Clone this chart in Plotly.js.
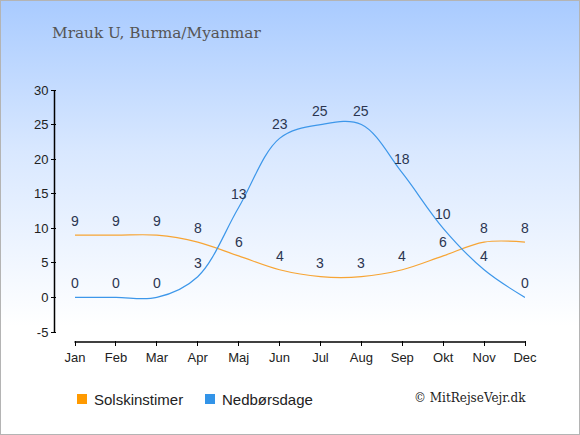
<!DOCTYPE html>
<html>
<head>
<meta charset="utf-8">
<script src="https://cdn.plot.ly/plotly-3.0.1.min.js"></script>
<style>
html,body{margin:0;padding:0;}
body{width:580px;height:435px;overflow:hidden;}
#wrap{position:relative;width:578px;height:433px;border:1px solid #b4b4b4;
background:linear-gradient(to bottom,#a9cbff 0%,#d9e8ff 35%,#ffffff 75%,#ffffff 100%);}
#chart{position:absolute;left:-1px;top:-1px;width:580px;height:435px;}
</style>
</head>
<body>
<div id="wrap"><div id="chart"></div></div>
<script>
const months = ["Jan","Feb","Mar","Apr","Maj","Jun","Jul","Aug","Sep","Okt","Nov","Dec"];
const sunHours = [9,9,9,8,6,4,3,3,4,6,8,8];
const rainDays = [0,0,0,3,13,23,25,25,18,10,4,0];
const yTicks = [-5,0,5,10,15,20,25,30];
const yTickText = ["-5","0","5","10","15","20","25","30"];

const idx = months.map((m,i)=>i);
const sans = "Liberation Sans, Arial, sans-serif";
const serif = "DejaVu Serif, Georgia, serif";
const labelFont = {family:sans, size:14, color:"#2b3550"};

// plot area geometry (px)
const L = 57, R = 55, T = 90, B = 95, W = 580 - L - R, H = 435 - T - B;
const px = v => (v - L) / W;       // page x -> paper
const py = v => (435 - B - v) / H; // page y -> paper

const traces = [
  {x:idx, y:sunHours, name:"Solskinstimer", mode:"lines",
   line:{color:"#f7a535", width:1.2, shape:"spline", smoothing:1}},
  {x:idx, y:rainDays, name:"Nedbørsdage", mode:"lines",
   line:{color:"#3d97ea", width:1.2, shape:"spline", smoothing:1}}
];

const valueLabels = [];
[sunHours, rainDays].forEach(series => {
  series.forEach((v, i) => {
    valueLabels.push({x:i, y:v, xref:"x", yref:"y", text:String(v), showarrow:false,
      yanchor:"middle", xanchor:"center", yshift:14, font:labelFont});
  });
});

const layout = {
  width:580, height:435,
  paper_bgcolor:"rgba(0,0,0,0)", plot_bgcolor:"rgba(0,0,0,0)",
  margin:{l:L, r:R, t:T, b:B},
  showlegend:false,
  font:{family:sans, size:13, color:"#222"},
  xaxis:{range:[-(75-L)/40.909, 11], tickvals:idx, ticktext:months, showgrid:false, zeroline:false,
         showline:false, ticks:"outside", ticklen:5, tickcolor:"#000", tickwidth:1,
         tickfont:{size:13, color:"#222"}, fixedrange:true},
  yaxis:{range:[-5 - 8/6.914, 30], tickvals:yTicks, ticktext:yTickText, showgrid:false, zeroline:false, showline:false,
         ticks:"outside", ticklen:5, tickcolor:"#000", tickwidth:1,
         tickfont:{size:13, color:"#222"}, fixedrange:true},
  shapes:[
    {type:"line", xref:"paper", yref:"paper", x0:px(54.5), x1:px(54.5), y0:py(332), y1:1, line:{color:"#000", width:1.5}},
    {type:"line", xref:"paper", yref:"paper", x0:px(74.5), x1:1, y0:py(342), y1:py(342), line:{color:"#000", width:1.5}},
    {type:"rect", xref:"paper", yref:"paper", x0:px(77), x1:px(87), y0:py(404), y1:py(394),
     fillcolor:"#ff9a00", line:{width:0}},
    {type:"rect", xref:"paper", yref:"paper", x0:px(205), x1:px(215), y0:py(404), y1:py(394),
     fillcolor:"#3394e8", line:{width:0}}
  ],
  annotations:valueLabels.concat([
    {text:"Mrauk U, Burma/Myanmar", xref:"paper", yref:"paper", x:px(50), y:py(33),
     xanchor:"left", yanchor:"middle", showarrow:false,
     font:{family:serif, size:15.3, color:"#555"}},
    {text:"Solskinstimer", xref:"paper", yref:"paper", x:px(92), y:py(399), xanchor:"left", yanchor:"middle",
     showarrow:false, font:{family:sans, size:15, color:"#222"}},
    {text:"Nedbørsdage", xref:"paper", yref:"paper", x:px(220), y:py(399), xanchor:"left", yanchor:"middle",
     showarrow:false, font:{family:sans, size:15, color:"#222"}},
    {text:"© MitRejseVejr.dk", xref:"paper", yref:"paper", x:px(528), y:py(398), xanchor:"right", yanchor:"middle",
     showarrow:false, font:{family:serif, size:12, color:"#222"}}
  ])
};

Plotly.newPlot("chart", traces, layout, {staticPlot:true, displayModeBar:false});
</script>
</body>
</html>
